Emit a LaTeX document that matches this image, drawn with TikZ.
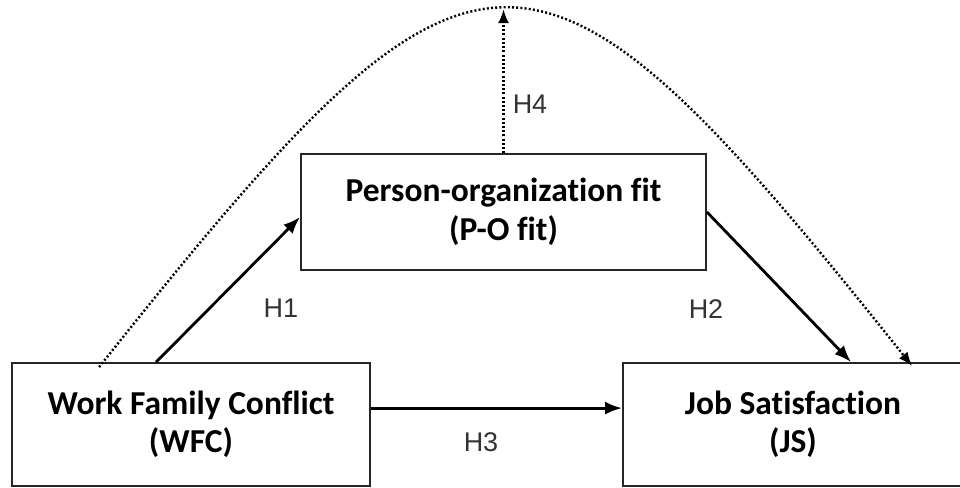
\documentclass[tikz,border=0pt]{standalone}
\usepackage{fontspec}
\setmainfont{Carlito}[Ligatures=NoCommon]
\newfontfamily\hfont{Liberation Sans}
\usetikzlibrary{arrows.meta,calc}
\begin{document}
\begin{tikzpicture}[x=1pt,y=-1pt,
  box/.style={draw=black!85,line width=1.8pt,rectangle,align=center,
    font=\fontsize{33.5}{38.5}\selectfont\bfseries,inner sep=0pt},
  hyp/.style={font=\hfont\fontsize{27}{30}\selectfont,text=black!80,inner sep=0pt},
  arr/.style={line width=2.8pt,-{Latex[length=17pt,width=13pt]}},
  dots/.style={line width=2.4pt,dash pattern=on 2pt off 2.2pt,-{Latex[length=14pt,width=11pt]}}]
\useasboundingbox (0,0) rectangle (960,487);
\fill[white] (0,0) rectangle (960,487);
\node[box,minimum width=358pt,minimum height=123pt] (wfc) at (191,424.5) {Work Family Conflict\\(WFC)};
\node[box,minimum width=340pt,minimum height=123pt] (js) at (793,424.5) {Job Satisfaction\\(JS)};
\node[box,minimum width=405pt,minimum height=116pt] (po) at (503.5,212) {Person-organization fit\\(P-O fit)};
\draw[arr] ($(wfc.north west)+(145,0)$) -- ($(po.west)+(0,5)$);
\draw[arr] (po.east) -- ($(js.north west)+(229,0)$);
\draw[arr] ($(wfc.north east)+(0,46)$) -- ($(js.north west)+(0,46)$);
\draw[dots] (po.north) -- ++(0,-144);
\draw[dots] ($(wfc.north west)+(88,5)$) .. controls ($(wfc.north west)+(468,-473)$) and ($(js.north west)+(-90,-473)$) .. ($(js.north west)+(290,4)$);
\node[hyp] (h1) at (281,308) {H1};
\node[hyp] (h2) at (706,309) {H2};
\node[hyp] (h3) at (481,442) {H3};
\node[hyp] (h4) at (530,104) {H4};
\end{tikzpicture}
\end{document}
